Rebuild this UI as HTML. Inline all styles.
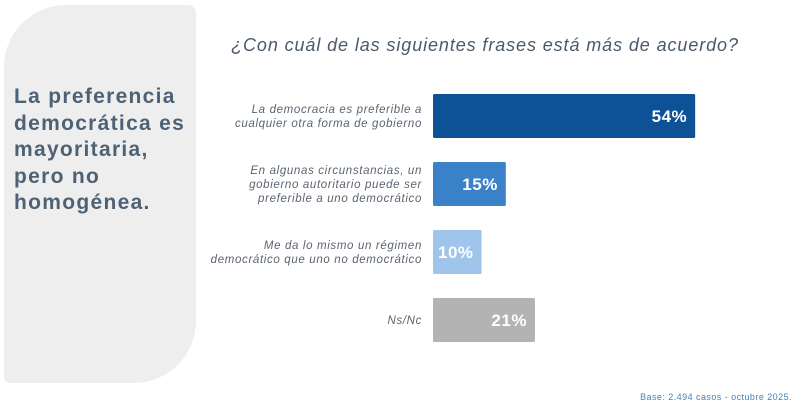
<!DOCTYPE html>
<html><head><meta charset="utf-8"><style>
body{margin:0;width:800px;height:415px;background:#fff;font-family:"Liberation Sans",sans-serif;overflow:hidden;position:relative}
#panel{position:absolute;left:4px;top:5px;width:192px;height:378px;background:#eeeeef;border-radius:62px 8px 62px 6px}
#headline{position:absolute;left:14px;top:84px;font-weight:bold;font-size:21px;line-height:26.5px;color:#4e6275;margin:0;letter-spacing:1.3px}
#title{position:absolute;left:200px;width:570px;top:35px;text-align:center;font-style:italic;font-size:18px;color:#4a5a6a;letter-spacing:0.9px}
#foot{position:absolute;right:8px;top:392px;font-size:9px;color:#4a7fb5;letter-spacing:0.45px}
</style></head><body>
<div id="panel"></div>
<h1 id="headline">La preferencia<br>democrática es<br>mayoritaria,<br>pero no<br>homogénea.</h1>
<div id="title">¿Con cuál de las siguientes frases está más de acuerdo?</div>
<svg id="chart" width="800" height="415" style="position:absolute;left:0;top:0"></svg>
<div id="foot">Base: 2.494 casos - octubre 2025.</div>
<script>
const categories=[["La democracia es preferible a","cualquier otra forma de gobierno"],["En algunas circunstancias, un","gobierno autoritario puede ser","preferible a uno democrático"],["Me da lo mismo un régimen","democrático que uno no democrático"],["Ns/Nc"]];
const values=[54,15,10,21];
const valueLabels=["54%","15%","10%","21%"];
const colors=["#0d5196","#3a82c8","#9fc5ea","#b3b3b3"];
const svg=document.getElementById('chart');const NS="http://www.w3.org/2000/svg";
const x0=433,pxPer=4.855,y0=94,step=68,bh=44;
const xs=v=>x0+v*pxPer, ys=i=>y0+i*step;
values.forEach((v,i)=>{
 const r=document.createElementNS(NS,'rect');
 
 
 r.setAttribute('x',x0);r.setAttribute('y',ys(i));r.setAttribute('width',xs(v)-x0);r.setAttribute('height',bh);r.setAttribute('fill',colors[i]);r.setAttribute('rx',1.5);
 svg.appendChild(r);
 const t=document.createElementNS(NS,'text');
 
 
 t.setAttribute('x',xs(v)-8);t.setAttribute('y',ys(i)+bh/2+6);t.setAttribute('text-anchor','end');t.setAttribute('fill','#fff');t.setAttribute('font-weight','bold');t.setAttribute('font-size','17');t.setAttribute('letter-spacing','0.5');
 t.textContent=valueLabels[i];svg.appendChild(t);
 const lines=categories[i];
 const l=document.createElementNS(NS,'text');
 
 
 l.setAttribute('text-anchor','end');l.setAttribute('fill','#5a6470');l.setAttribute('font-size','11.5');l.setAttribute('font-style','italic');l.setAttribute('letter-spacing','0.65');
 const lh=14,start=ys(i)+bh/2-(lines.length-1)*lh/2+4;
 lines.forEach((s,j)=>{const ts=document.createElementNS(NS,'tspan');ts.setAttribute('x',422);ts.setAttribute('y',start+j*lh);ts.textContent=s;l.appendChild(ts);});
 svg.appendChild(l);
});
</script>
</body></html>
